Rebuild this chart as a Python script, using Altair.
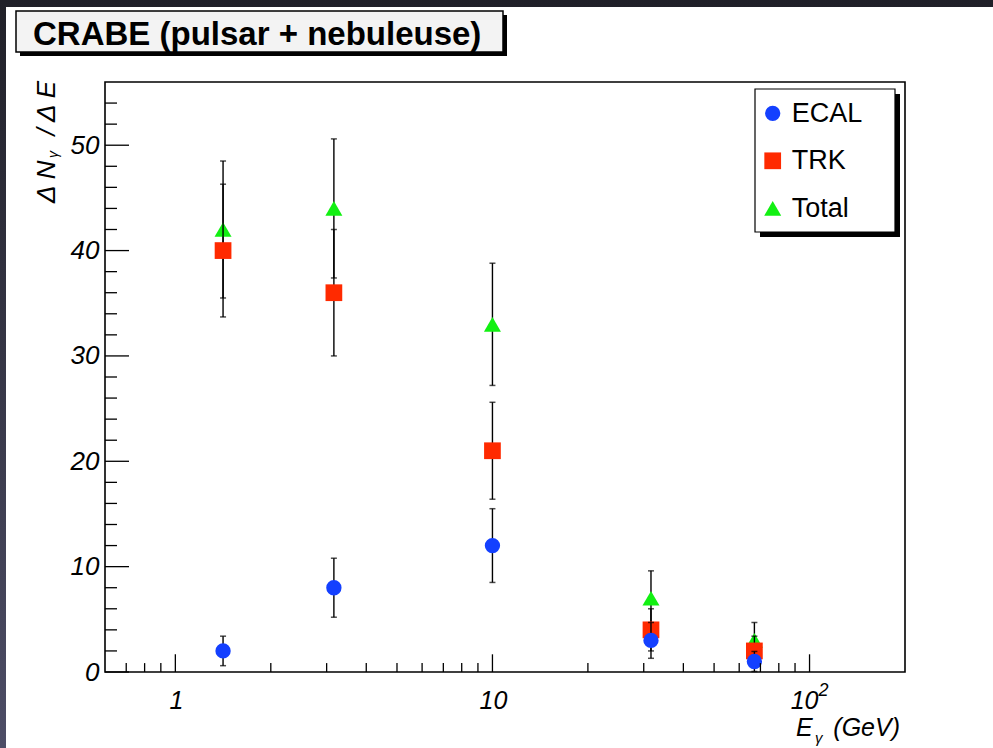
import altair as alt
import pandas as pd

# ---------------- data ----------------
energy = [1.414, 3.162, 10.0, 31.62, 67.0]
ecal = [2, 8, 12, 3, 1]
ecal_err = [1.4, 2.8, 3.5, 1.7, 0.95]
trk = [40, 36, 21, 4, 2]
trk_err = [6.3, 6.0, 4.6, 2.0, 1.4]
total = [42, 44, 33, 7, 3]
total_err = [6.5, 6.6, 5.8, 2.6, 1.7]

series_names = ["ECAL", "TRK", "Total"]
series_colors = ["#1440ff", "#ff2a00", "#12f012"]
series_shapes = ["circle", "square", "triangle-up"]
series_sizes = [235, 280, 290]

y_major = [0, 10, 20, 30, 40, 50]
y_minor = [2, 4, 6, 8, 12, 14, 16, 18, 22, 24, 26, 28, 32, 34, 36, 38,
           42, 44, 46, 48, 52, 54]
x_major = [1, 10, 100]
x_minor = [0.7, 0.8, 0.9, 2, 3, 4, 5, 6, 7, 8, 9,
           20, 30, 40, 50, 60, 70, 80, 90]
x_label_pos = [1, 10]
x_label_text = ["1", "10"]

title_text = "CRABE (pulsar + nebuleuse)"

W, H = 800, 590
FONT = "Liberation Sans"

rows = []
for name, vals, errs in [("ECAL", ecal, ecal_err), ("TRK", trk, trk_err), ("Total", total, total_err)]:
    for e, v, s in zip(energy, vals, errs):
        rows.append({"series": name, "E": e, "val": v, "lo": max(v - s, 0), "hi": v + s})
df = pd.DataFrame(rows)
one = pd.DataFrame({"a": [0]})

xscale = alt.Scale(type="log", domain=[0.6, 200])
yscale = alt.Scale(domain=[0, 56])
yaxis = alt.Axis(values=y_major, ticks=False, domain=False, grid=False,
                 labelFont=FONT, labelFontStyle="italic", labelFontSize=26,
                 labelColor="black", labelPadding=6, title=None, zindex=1)

layers = []

# background gradient + white canvas
grad = alt.LinearGradient(gradient="linear",
                          stops=[alt.GradientStop(color="#202028", offset=0),
                                 alt.GradientStop(color="#4d4d66", offset=1)],
                          x1=0, x2=0, y1=0, y2=1)
layers.append(alt.Chart(one).mark_rect(fill=grad).encode(
    x=alt.value(-105), x2=alt.value(W + 88), y=alt.value(-82), y2=alt.value(H + 76)))
layers.append(alt.Chart(one).mark_rect(color="white").encode(
    x=alt.value(-99), x2=alt.value(W + 88), y=alt.value(-75), y2=alt.value(H + 76)))

# title box
layers.append(alt.Chart(one).mark_rect(color="black").encode(
    x=alt.value(-85), x2=alt.value(402), y=alt.value(-67), y2=alt.value(-26)))
layers.append(alt.Chart(one).mark_rect(fill="#f3f3f3", stroke="black", strokeWidth=1.5).encode(
    x=alt.value(-89), x2=alt.value(398), y=alt.value(-71), y2=alt.value(-30)))
layers.append(alt.Chart(one).mark_text(text=title_text, font=FONT, fontWeight="bold", fontSize=33,
                                       align="left", baseline="alphabetic", color="black").encode(
    x=alt.value(-72), y=alt.value(-37)))

# data: Total, TRK, ECAL order (ECAL on top)
for idx in [2, 1, 0]:
    name = series_names[idx]
    sub = alt.Chart(df).transform_filter(alt.datum.series == name)
    layers.append(sub.mark_rule(color="black", strokeWidth=1.4).encode(
        x=alt.X("E:Q", scale=xscale, axis=None),
        y=alt.Y("lo:Q", scale=yscale, axis=yaxis), y2="hi:Q"))
    for col in ["lo", "hi"]:
        layers.append(sub.mark_tick(orient="horizontal", size=6, thickness=1.5, color="black").encode(
            x=alt.X("E:Q", scale=xscale, axis=None),
            y=alt.Y(f"{col}:Q", scale=yscale, axis=yaxis)))
    layers.append(sub.mark_point(shape=series_shapes[idx], filled=True, size=series_sizes[idx],
                                 color=series_colors[idx], opacity=1).encode(
        x=alt.X("E:Q", scale=xscale, axis=None),
        y=alt.Y("val:Q", scale=yscale, axis=yaxis)))

# axis ticks (inside)
ymaj = pd.DataFrame({"v": y_major})
ymin = pd.DataFrame({"v": y_minor})
xmaj = pd.DataFrame({"v": x_major})
xmin = pd.DataFrame({"v": x_minor})
layers.append(alt.Chart(ymaj).mark_rule(color="black", strokeWidth=1.3).encode(
    y=alt.Y("v:Q", scale=yscale, axis=yaxis), x=alt.value(0), x2=alt.value(24)))
layers.append(alt.Chart(ymin).mark_rule(color="black", strokeWidth=1.3).encode(
    y=alt.Y("v:Q", scale=yscale, axis=yaxis), x=alt.value(0), x2=alt.value(12)))
layers.append(alt.Chart(xmaj).mark_rule(color="black", strokeWidth=1.3).encode(
    x=alt.X("v:Q", scale=xscale, axis=None), y=alt.value(H), y2=alt.value(H - 17.7)))
layers.append(alt.Chart(xmin).mark_rule(color="black", strokeWidth=1.3).encode(
    x=alt.X("v:Q", scale=xscale, axis=None), y=alt.value(H), y2=alt.value(H - 8.9)))

# x labels
xl = pd.DataFrame({"v": x_label_pos, "t": x_label_text})
layers.append(alt.Chart(xl).mark_text(font=FONT, fontStyle="italic", fontSize=25, align="center",
                                      baseline="alphabetic", color="black", dx=1).encode(
    x=alt.X("v:Q", scale=xscale, axis=None), y=alt.value(H + 37), text="t:N"))
xl2 = pd.DataFrame({"v": [100], "t": ["10"], "s": ["2"]})
layers.append(alt.Chart(xl2).mark_text(font=FONT, fontStyle="italic", fontSize=25, align="center",
                                       baseline="alphabetic", color="black", dx=-5).encode(
    x=alt.X("v:Q", scale=xscale, axis=None), y=alt.value(H + 37), text="t:N"))
layers.append(alt.Chart(xl2).mark_text(font=FONT, fontStyle="italic", fontSize=18, align="center",
                                       baseline="alphabetic", color="black", dx=14).encode(
    x=alt.X("v:Q", scale=xscale, axis=None), y=alt.value(H + 24), text="s:N"))

# x title
layers.append(alt.Chart(one).mark_text(text="E", font=FONT, fontStyle="italic", fontSize=25,
                                       align="left", baseline="alphabetic", color="black").encode(
    x=alt.value(691), y=alt.value(654)))
layers.append(alt.Chart(one).mark_text(text="γ", font=FONT, fontStyle="italic", fontSize=15,
                                       align="left", baseline="alphabetic", color="black").encode(
    x=alt.value(710), y=alt.value(661)))
layers.append(alt.Chart(one).mark_text(text="(GeV)", font=FONT, fontStyle="italic", fontSize=25,
                                       align="right", baseline="alphabetic", color="black").encode(
    x=alt.value(795), y=alt.value(654)))

# y title (rotated)
layers.append(alt.Chart(one).mark_text(text="Δ N", font=FONT, fontStyle="italic", fontSize=26,
                                       align="left", baseline="alphabetic", angle=270, color="black").encode(
    x=alt.value(-50), y=alt.value(121)))
layers.append(alt.Chart(one).mark_text(text="γ", font=FONT, fontStyle="italic", fontSize=14,
                                       align="left", baseline="alphabetic", angle=270, color="black").encode(
    x=alt.value(-47), y=alt.value(76)))
layers.append(alt.Chart(one).mark_text(text="/ Δ E", font=FONT, fontStyle="italic", fontSize=26,
                                       align="right", baseline="alphabetic", angle=270, color="black").encode(
    x=alt.value(-50), y=alt.value(-1)))

# legend
layers.append(alt.Chart(one).mark_rect(color="black").encode(
    x=alt.value(655), x2=alt.value(795), y=alt.value(12), y2=alt.value(155)))
layers.append(alt.Chart(one).mark_rect(fill="white", stroke="black", strokeWidth=1.2).encode(
    x=alt.value(650), x2=alt.value(790), y=alt.value(7), y2=alt.value(150)))
for i, name in enumerate(series_names):
    cy = 31.3 + i * 47.5
    layers.append(alt.Chart(one).mark_point(shape=series_shapes[i], filled=True, size=series_sizes[i],
                                            color=series_colors[i], opacity=1).encode(
        x=alt.value(667.7), y=alt.value(cy)))
    layers.append(alt.Chart(one).mark_text(text=name, font=FONT, fontSize=27, align="left",
                                           baseline="alphabetic", color="black").encode(
        x=alt.value(686.7), y=alt.value(cy + 8.5)))

# frame
layers.append(alt.Chart(one).mark_rect(filled=False, stroke="black", strokeWidth=1.6).encode(
    x=alt.value(0), x2=alt.value(W), y=alt.value(0), y2=alt.value(H)))

chart = alt.layer(*layers).properties(
    width=W, height=H,
    autosize=alt.AutoSizeParams(type="none"),
    padding={"left": 105, "top": 82, "right": 88, "bottom": 76},
    background="#2b2b35",
).configure_view(stroke=None)

chart.save("out.html", embed_options={"renderer": "svg", "actions": False})
